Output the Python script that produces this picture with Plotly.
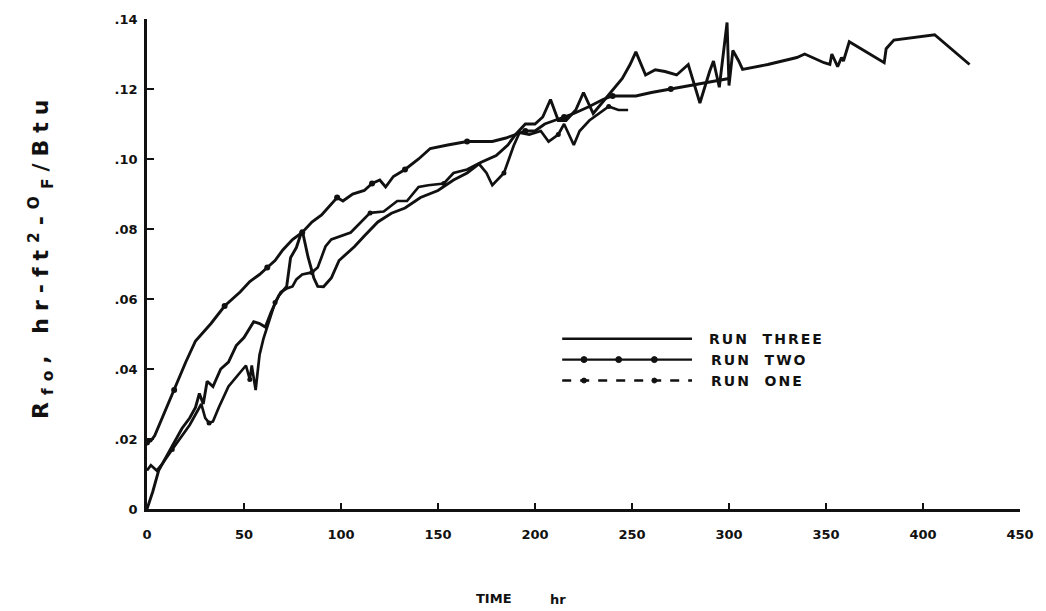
import plotly.graph_objects as go

# ---------------- data ----------------
run_three_t = [0, 3, 6, 9, 13, 18, 22, 25, 27, 29, 31, 34, 38, 42, 46, 50, 55, 58, 61, 64, 68, 72, 74, 77, 80,
               83, 86, 88, 91, 95, 99, 103, 107, 112, 119, 126, 133, 141, 150, 158, 165, 172, 180, 186, 190,
               195, 200, 204, 208, 212, 216, 221, 225, 230, 236, 241, 245, 249, 252, 257, 262, 267, 273, 279,
               285, 290, 292, 295, 299, 300, 302, 305, 307, 320, 335, 339, 344, 349, 352, 353, 356, 358, 359,
               362, 380, 381, 385, 406, 424]
run_three_v = [0.000, 0.005, 0.011, 0.014, 0.018, 0.023, 0.026, 0.029, 0.033, 0.030, 0.0365, 0.035, 0.040,
               0.042, 0.0467, 0.049, 0.0535, 0.053, 0.052, 0.0563, 0.061, 0.0636, 0.0718, 0.0747, 0.0797,
               0.072, 0.066, 0.0636, 0.0635, 0.066, 0.071, 0.073, 0.075, 0.078, 0.082, 0.0845, 0.086, 0.089,
               0.091, 0.094, 0.096, 0.099, 0.101, 0.104, 0.107, 0.110, 0.110, 0.112, 0.117, 0.111, 0.111,
               0.114, 0.119, 0.113, 0.117, 0.120, 0.123, 0.127, 0.1306, 0.124, 0.1255, 0.125, 0.124, 0.127,
               0.116, 0.125, 0.128, 0.1205, 0.139, 0.121, 0.131, 0.128, 0.1256, 0.127, 0.129, 0.130, 0.1287,
               0.1275, 0.127, 0.130, 0.1264, 0.129, 0.128, 0.1335, 0.1275, 0.1315, 0.134, 0.1355, 0.127]

run_two_t = [0, 2, 4, 10, 14, 20, 25, 33, 40, 48, 53, 58, 62, 66, 70, 75, 80, 85, 90, 95, 98, 101, 106, 112,
             116, 120, 123, 127, 133, 140, 146, 155, 165, 178, 185, 190, 195, 200, 205, 210, 215, 220, 228,
             235, 240, 246, 252, 260, 270, 280, 290, 300]
run_two_v = [0.019, 0.0195, 0.021, 0.029, 0.034, 0.042, 0.048, 0.053, 0.058, 0.062, 0.065, 0.067, 0.069,
             0.071, 0.074, 0.077, 0.079, 0.082, 0.084, 0.087, 0.089, 0.088, 0.090, 0.091, 0.093, 0.094,
             0.092, 0.095, 0.097, 0.100, 0.103, 0.104, 0.105, 0.105, 0.106, 0.107, 0.108, 0.108, 0.110,
             0.111, 0.112, 0.113, 0.115, 0.117, 0.118, 0.118, 0.118, 0.119, 0.120, 0.121, 0.122, 0.123]

run_one_t = [0, 2, 5, 8, 13, 18, 22, 25, 28, 30, 32, 34, 37, 42, 48, 51, 53, 54, 56, 58, 60, 63, 66, 69, 72,
             75, 77, 80, 85, 88, 92, 95, 100, 105, 115, 122, 129, 134, 140, 145, 153, 158, 165, 171, 175,
             178, 184, 189, 192, 197, 203, 207, 212, 215, 220, 223, 228, 233, 238, 243, 248]
run_one_v = [0.011, 0.0125, 0.011, 0.013, 0.017, 0.021, 0.024, 0.027, 0.030, 0.026, 0.0246, 0.025, 0.029,
             0.035, 0.039, 0.041, 0.037, 0.041, 0.034, 0.044, 0.0486, 0.054, 0.059, 0.062, 0.063, 0.0636,
             0.0656, 0.067, 0.0676, 0.069, 0.075, 0.077, 0.078, 0.079, 0.0846, 0.085, 0.088, 0.088, 0.092,
             0.0925, 0.093, 0.096, 0.097, 0.0987, 0.096, 0.0925, 0.096, 0.1038, 0.1075, 0.107, 0.108, 0.105,
             0.107, 0.110, 0.104, 0.108, 0.111, 0.113, 0.115, 0.114, 0.114]

x_ticks = [0, 50, 100, 150, 200, 250, 300, 350, 400, 450]
x_tick_labels = ["0", "50", "100", "150", "200", "250", "300", "350", "400", "450"]
y_ticks = [0, 0.02, 0.04, 0.06, 0.08, 0.10, 0.12, 0.14]
y_tick_labels = ["0", ".02", ".04", ".06", ".08", ".10", ".12", ".14"]
series_names = ["RUN THREE", "RUN TWO", "RUN ONE"]

INK = "#111111"
FONT = "DejaVu Sans"

fig = go.Figure()
fig.add_trace(go.Scatter(x=run_three_t, y=run_three_v, mode="lines", name=series_names[0],
                         line=dict(color=INK, width=2.9), showlegend=False))
fig.add_trace(go.Scatter(x=run_two_t, y=run_two_v, mode="lines+markers", name=series_names[1],
                         line=dict(color=INK, width=2.9),
                         marker=dict(color=INK, size=6, maxdisplayed=14), showlegend=False))
fig.add_trace(go.Scatter(x=run_one_t, y=run_one_v, mode="lines+markers", name=series_names[2],
                         line=dict(color=INK, width=2.7),
                         marker=dict(color=INK, size=5, maxdisplayed=12), showlegend=False))

# ---------------- hand-drawn style legend (paper coords) ----------------
L, R, T, B = 147, 1028, 17, 509
def px(x):
    return (x - L) / (R - L)
def py(y):
    return (B - y) / (B - T)

shapes = []
annotations = []
leg_rows = [338, 359, 380]
dashes = ["solid", "solid", "dash"]
for name, yy, dsh in zip(series_names, leg_rows, dashes):
    shapes.append(dict(type="line", xref="paper", yref="paper", x0=px(566), x1=px(697),
                       y0=py(yy), y1=py(yy), line=dict(color=INK, width=2.4, dash=dsh)))
    annotations.append(dict(xref="paper", yref="paper", x=px(722), y=py(yy),
                            text=name.replace(" ", "\u00a0\u00a0"),
                            showarrow=False, xanchor="left", yanchor="middle", name="legtext",
                            font=dict(family=FONT, size=14, color=INK, weight="bold")))
for xx in (588, 623, 659):
    shapes.append(dict(type="circle", xref="paper", yref="paper",
                       x0=px(xx - 3), x1=px(xx + 3), y0=py(359 + 3), y1=py(359 - 3),
                       fillcolor=INK, line=dict(color=INK, width=1)))
for xx in (588, 659):
    shapes.append(dict(type="circle", xref="paper", yref="paper",
                       x0=px(xx - 2.5), x1=px(xx + 2.5), y0=py(380 + 2.5), y1=py(380 - 2.5),
                       fillcolor=INK, line=dict(color=INK, width=1)))

# y-axis title
annotations.append(dict(xref="paper", yref="paper", x=px(40), y=py(255), textangle=-90,
                        text="R<sub>fo</sub>, hr-ft<sup>2</sup>-<sup>O</sup><sub>F</sub>/Btu",
                        showarrow=False, xanchor="center", yanchor="middle", name="ytitle",
                        font=dict(family=FONT, size=22, color=INK, weight="bold")))
# x-axis title
annotations.append(dict(xref="paper", yref="paper", x=px(497), y=py(599), text="TIME",
                        showarrow=False, xanchor="center", yanchor="middle",
                        font=dict(family=FONT, size=13, color=INK, weight="bold")))
annotations.append(dict(xref="paper", yref="paper", x=px(562), y=py(600), text="hr",
                        showarrow=False, xanchor="center", yanchor="middle",
                        font=dict(family=FONT, size=13, color=INK, weight="bold")))

fig.update_layout(
    width=1046, height=611,
    margin=dict(l=L, r=1046 - R, t=T, b=611 - B),
    paper_bgcolor="white", plot_bgcolor="white",
    shapes=shapes, annotations=annotations, showlegend=False,
    xaxis=dict(range=[0, 450], tickvals=x_ticks, ticktext=x_tick_labels, showgrid=False,
               zeroline=False, showline=True, linecolor=INK, linewidth=2.5,
               ticks="inside", ticklen=6, tickwidth=2, tickcolor=INK, ticklabelstandoff=12,
               tickfont=dict(family=FONT, size=13, color=INK, weight="bold")),
    yaxis=dict(range=[0, 0.14], tickvals=y_ticks, ticktext=y_tick_labels, showgrid=False,
               zeroline=False, showline=True, linecolor=INK, linewidth=2.5,
               ticks="inside", ticklen=7, tickwidth=2, tickcolor=INK, ticklabelstandoff=4,
               tickfont=dict(family=FONT, size=13, color=INK, weight="bold")),
)

post = """
document.body.style.margin = '0';
document.body.style.overflow = 'hidden';
function fixText() {
  var gd = document.getElementById('{plot_id}');
  if (!gd) return;
  var anns = gd.querySelectorAll('.annotation');
  anns.forEach(function (a) {
    var idx = parseInt(a.getAttribute('data-index'));
    var t = a.querySelector('text');
    if (!t) return;
    if (idx <= 2) t.style.letterSpacing = '2px';
    if (idx === 3) t.style.letterSpacing = '7px';
  });
}
fixText();
setTimeout(fixText, 50);
setTimeout(fixText, 300);
"""

fig.write_html("out.html", post_script=post, config={"displayModeBar": False})
